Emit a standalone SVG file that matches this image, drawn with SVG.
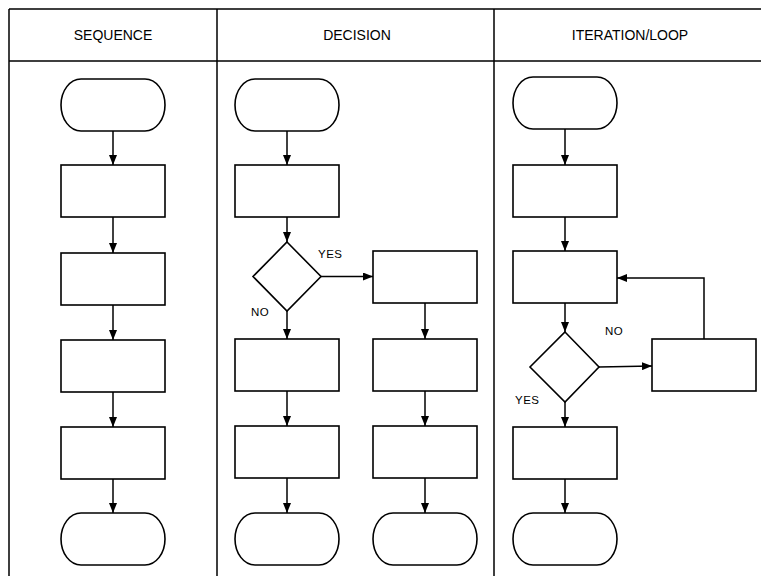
<svg xmlns="http://www.w3.org/2000/svg" width="761" height="576" viewBox="0 0 761 576">
<defs>
<marker id="ah" viewBox="0 0 10 8" refX="10" refY="4" markerWidth="10" markerHeight="8" markerUnits="userSpaceOnUse" orient="auto">
<path d="M0,0 L10,4 L0,8 Z" fill="#000"/>
</marker>
<style>
.frame{stroke:#000;stroke-width:1.5;fill:none}
.box{fill:#fff;stroke:#000;stroke-width:1.6}
.term{fill:#fff;stroke:#000;stroke-width:1.6}
.con{stroke:#000;stroke-width:1.5;fill:none;marker-end:url(#ah)}
.hdr{font-family:"Liberation Sans",Arial,sans-serif;font-size:14px;text-anchor:middle;fill:#000}
.lbl{font-family:"Liberation Sans",Arial,sans-serif;font-size:11.5px;fill:#000;letter-spacing:0.5px}
</style>
</defs>
<rect width="761" height="576" fill="#fff"/>
<g id="frame">
<path class="frame" d="M9,9 H761 M9,61 H761 M9,9 V576 M217,9 V576 M494,9 V576"/>
<text class="hdr" x="113" y="40">SEQUENCE</text>
<text class="hdr" x="357" y="40">DECISION</text>
<text class="hdr" x="630" y="40">ITERATION/LOOP</text>
</g>
<g id="seq">
<g id="s-start"><rect class="term" x="61" y="79" width="104" height="52" rx="20" ry="26"/></g>
<g id="s-p1"><rect class="box" x="61" y="165" width="104" height="52"/></g>
<g id="s-p2"><rect class="box" x="61" y="253" width="104" height="52"/></g>
<g id="s-p3"><rect class="box" x="61" y="340" width="104" height="52"/></g>
<g id="s-p4"><rect class="box" x="61" y="427" width="104" height="52"/></g>
<g id="s-end"><rect class="term" x="61" y="513" width="104" height="52" rx="20" ry="26"/></g>
</g>
<g id="dec">
<g id="d-start"><rect class="term" x="235" y="79" width="104" height="52" rx="20" ry="26"/></g>
<g id="d-p1"><rect class="box" x="235" y="165" width="104" height="52"/></g>
<g id="d-cond"><polygon class="box" points="287,242 321,276.5 287,311 253,276.5"/></g>
<g id="d-yes1"><rect class="box" x="373" y="251" width="104" height="52"/></g>
<g id="d-no1"><rect class="box" x="235" y="339" width="104" height="52"/></g>
<g id="d-yes2"><rect class="box" x="373" y="339" width="104" height="52"/></g>
<g id="d-no2"><rect class="box" x="235" y="426" width="104" height="52"/></g>
<g id="d-yes3"><rect class="box" x="373" y="426" width="104" height="52"/></g>
<g id="d-end1"><rect class="term" x="235" y="513" width="104" height="52" rx="20" ry="26"/></g>
<g id="d-end2"><rect class="term" x="373" y="513" width="104" height="52" rx="20" ry="26"/></g>
<text class="lbl" x="318" y="258">YES</text>
<text class="lbl" x="251" y="316">NO</text>
</g>
<g id="loop">
<g id="l-start"><rect class="term" x="513" y="77" width="104" height="52" rx="20" ry="26"/></g>
<g id="l-p1"><rect class="box" x="513" y="165" width="104" height="52"/></g>
<g id="l-p2"><rect class="box" x="513" y="251" width="104" height="52"/></g>
<g id="l-cond"><polygon class="box" points="565,332 599,367 565,402 530,367"/></g>
<g id="l-body"><rect class="box" x="652" y="339" width="104" height="52"/></g>
<g id="l-p3"><rect class="box" x="513" y="427" width="104" height="52"/></g>
<g id="l-end"><rect class="term" x="513" y="513" width="104" height="52" rx="20" ry="26"/></g>
<text class="lbl" x="605" y="335">NO</text>
<text class="lbl" x="515" y="404">YES</text>
</g>
<g id="connectors">
<path class="con" d="M113,131 V165"/>
<path class="con" d="M113,217 V253"/>
<path class="con" d="M113,305 V340"/>
<path class="con" d="M113,392 V427"/>
<path class="con" d="M113,479 V513"/>
<path class="con" d="M287,131 V165"/>
<path class="con" d="M287,217 V242"/>
<path class="con" d="M321,276.5 H373"/>
<path class="con" d="M287,311 V339"/>
<path class="con" d="M425,303 V339"/>
<path class="con" d="M287,391 V426"/>
<path class="con" d="M425,391 V426"/>
<path class="con" d="M287,478 V513"/>
<path class="con" d="M425,478 V513"/>
<path class="con" d="M565,129 V165"/>
<path class="con" d="M565,217 V251"/>
<path class="con" d="M565,303 V332"/>
<path class="con" d="M599,367 L652,366"/>
<path class="con" d="M704,339 V278 H617"/>
<path class="con" d="M565,402 V427"/>
<path class="con" d="M565,479 V513"/>
</g>
</svg>
